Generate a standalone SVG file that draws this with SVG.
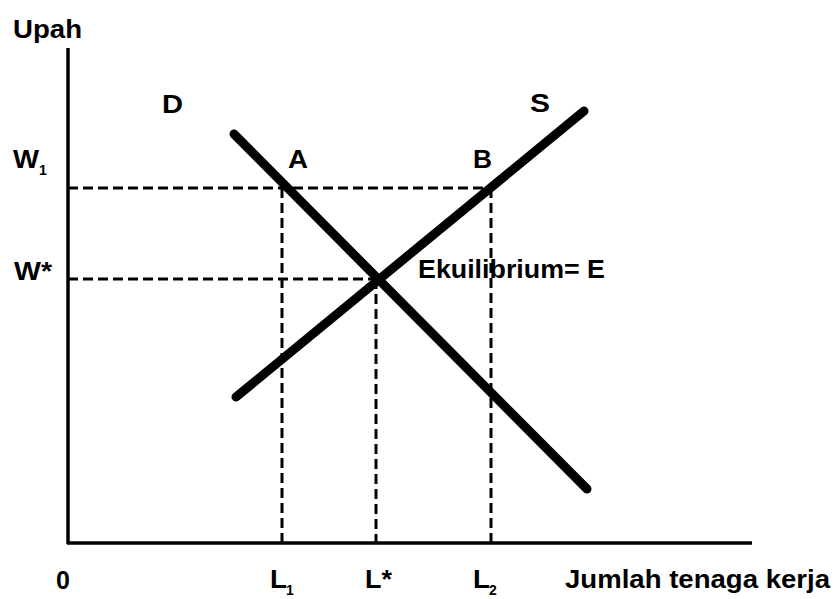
<svg xmlns="http://www.w3.org/2000/svg" width="836" height="599" viewBox="0 0 836 599">
<style>
.lbl{font-family:"Liberation Sans",Arial,sans-serif;font-weight:bold;fill:#000;font-size:25px}
.sub{font-family:"Liberation Sans",Arial,sans-serif;font-weight:bold;fill:#000;font-size:14px}
.axis{stroke:#000;stroke-width:3.5;fill:none}
.dash{stroke:#000;stroke-width:3;stroke-dasharray:10 5;fill:none}
.curve{stroke:#000;stroke-width:9;stroke-linecap:round;fill:none}
</style>
<rect width="836" height="599" fill="#fff"/>
<g id="axes">
<line class="axis" x1="68" y1="48" x2="68" y2="544"/>
<line class="axis" x1="67" y1="543" x2="752" y2="543"/>
<text class="lbl" x="13" y="38" textLength="69" lengthAdjust="spacingAndGlyphs">Upah</text>
<text class="lbl" x="565" y="588" textLength="265" lengthAdjust="spacingAndGlyphs">Jumlah tenaga kerja</text>
<text class="lbl" x="56" y="589">0</text>
</g>
<g id="connectors">
<line class="dash" x1="68" y1="188" x2="491" y2="188"/>
<line class="dash" x1="68" y1="279" x2="378" y2="279"/>
<line class="dash" x1="282" y1="188" x2="282" y2="543"/>
<line class="dash" x1="376" y1="279" x2="376" y2="543"/>
<line class="dash" x1="491" y1="188" x2="491" y2="543"/>
</g>
<g id="demand">
<line class="curve" x1="234" y1="134" x2="587" y2="489"/>
<text class="lbl" x="162" y="113" textLength="21" lengthAdjust="spacingAndGlyphs">D</text>
</g>
<g id="supply">
<line class="curve" x1="236" y1="397" x2="584" y2="111"/>
<text class="lbl" x="530" y="112" textLength="20" lengthAdjust="spacingAndGlyphs">S</text>
</g>
<g id="pointA"><text class="lbl" x="288" y="168" textLength="20" lengthAdjust="spacingAndGlyphs">A</text></g>
<g id="pointB"><text class="lbl" x="473" y="168" textLength="19" lengthAdjust="spacingAndGlyphs">B</text></g>
<g id="equilibrium"><text class="lbl" x="418" y="278" textLength="187" lengthAdjust="spacingAndGlyphs">Ekuilibrium= E</text></g>
<g id="w1"><text class="lbl" x="13" y="168" textLength="26" lengthAdjust="spacingAndGlyphs">W</text><text class="sub" x="39" y="175">1</text></g>
<g id="wstar"><text class="lbl" x="14" y="280" textLength="38" lengthAdjust="spacingAndGlyphs">W*</text></g>
<g id="l1"><text class="lbl" x="270" y="588" textLength="17" lengthAdjust="spacingAndGlyphs">L</text><text class="sub" x="286" y="595">1</text></g>
<g id="lstar"><text class="lbl" x="365" y="588" textLength="27" lengthAdjust="spacingAndGlyphs">L*</text></g>
<g id="l2"><text class="lbl" x="473" y="588" textLength="17" lengthAdjust="spacingAndGlyphs">L</text><text class="sub" x="489" y="595">2</text></g>
</svg>
